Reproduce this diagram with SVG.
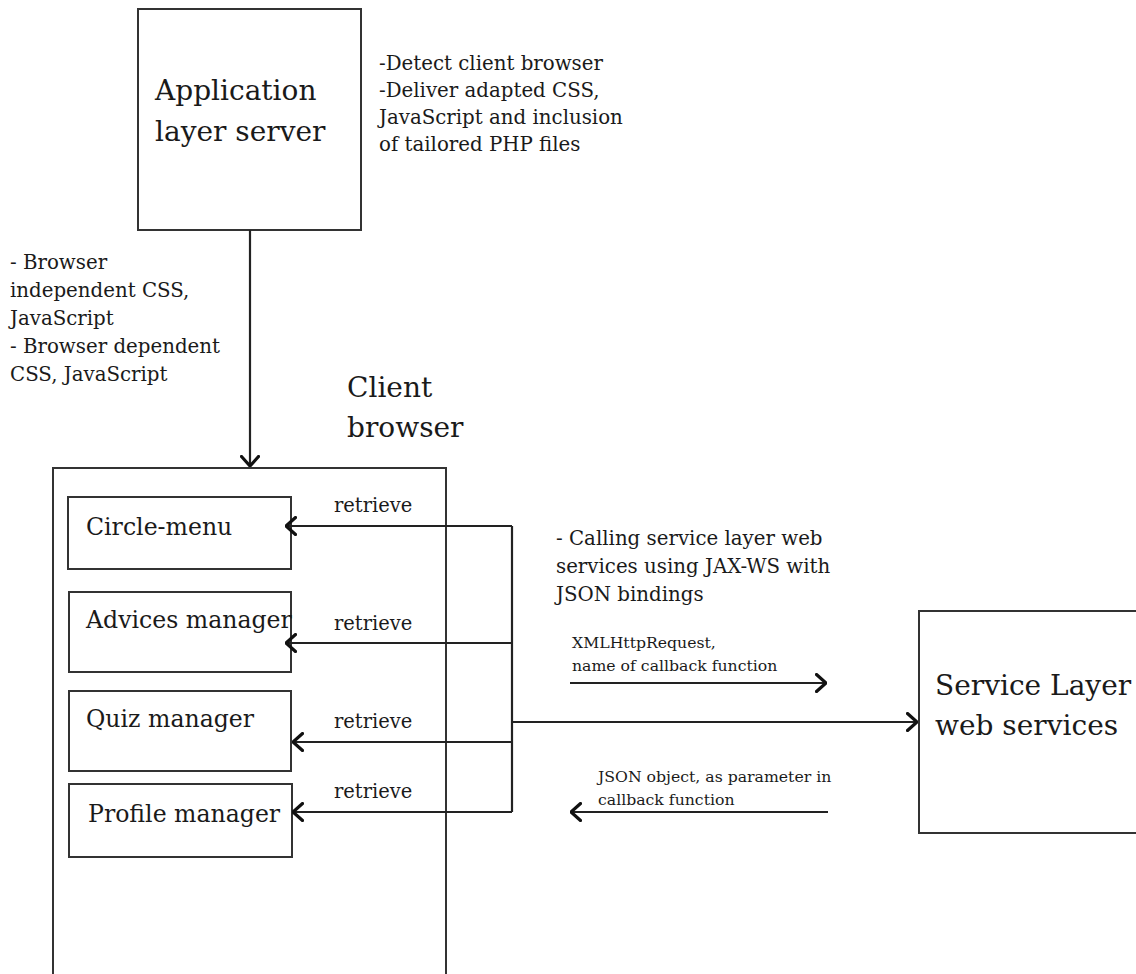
<svg xmlns="http://www.w3.org/2000/svg" width="1136" height="974" viewBox="0 0 1136 974">
<style>
.box{fill:#fff;stroke:#333;stroke-width:2}
.ln{fill:none;stroke:#222;stroke-width:2.2}
text{font-family:"DejaVu Serif","Liberation Serif",serif;fill:#1a1a1a}
.big{font-size:28px}
.mid{font-size:19.8px}
.lbl{font-size:23.6px}
.ret{font-size:19.5px}
.sm{font-size:15.7px}
</style>
<defs>
<marker id="ah" viewBox="0 0 12 20" refX="11" refY="10" markerWidth="12" markerHeight="20" markerUnits="userSpaceOnUse" orient="auto">
<path d="M1.5,1.5 L11,10 L1.5,18.5" fill="none" stroke="#111" stroke-width="3.2" stroke-linecap="round" stroke-linejoin="round"/>
</marker>
</defs>
<rect width="1136" height="974" fill="#fff"/>

<g id="app-server">
<rect class="box" x="138" y="9" width="223" height="221"/>
<text class="big" x="155" y="100">Application</text>
<text class="big" x="155" y="141">layer server</text>
</g>
<g id="app-notes">
<text class="mid" x="379" y="70">-Detect client browser</text>
<text class="mid" x="379" y="97">-Deliver adapted CSS,</text>
<text class="mid" x="379" y="124">JavaScript and inclusion</text>
<text class="mid" x="379" y="151">of tailored PHP files</text>
</g>
<g id="delivery-notes">
<text class="mid" x="10" y="269">- Browser</text>
<text class="mid" x="10" y="297">independent CSS,</text>
<text class="mid" x="10" y="325">JavaScript</text>
<text class="mid" x="10" y="353">- Browser dependent</text>
<text class="mid" x="10" y="381">CSS, JavaScript</text>
</g>

<g id="client-browser">
<path class="box" d="M53,980 V468 H446 V980"/>
<text class="big" x="347" y="397">Client</text>
<text class="big" x="347" y="437">browser</text>
</g>
<g id="circle-menu">
<rect class="box" x="68" y="497" width="223" height="72"/>
<text class="lbl" x="86" y="535">Circle-menu</text>
</g>
<g id="advices-manager">
<rect class="box" x="69" y="592" width="222" height="80"/>
<text class="lbl" x="86" y="628">Advices manager</text>
</g>
<g id="quiz-manager">
<rect class="box" x="69" y="691" width="222" height="80"/>
<text class="lbl" x="86" y="727">Quiz manager</text>
</g>
<g id="profile-manager">
<rect class="box" x="69" y="784" width="223" height="73"/>
<text class="lbl" x="88" y="822">Profile manager</text>
</g>

<g id="service-layer">
<rect class="box" x="919" y="611" width="230" height="222"/>
<text class="big" x="935" y="695">Service Layer</text>
<text class="big" x="935" y="735">web services</text>
</g>
<g id="service-notes">
<text class="mid" x="556" y="545">- Calling service layer web</text>
<text class="mid" x="556" y="573">services using JAX-WS with</text>
<text class="mid" x="556" y="601">JSON bindings</text>
</g>

<g id="connectors">
<line class="ln" x1="250" y1="230" x2="250" y2="466" marker-end="url(#ah)"/>
<path class="ln" d="M512,526 V812"/>
<line class="ln" x1="512" y1="526" x2="286" y2="526" marker-end="url(#ah)"/>
<line class="ln" x1="512" y1="643" x2="286" y2="643" marker-end="url(#ah)"/>
<line class="ln" x1="512" y1="742" x2="293" y2="742" marker-end="url(#ah)"/>
<line class="ln" x1="512" y1="812" x2="293" y2="812" marker-end="url(#ah)"/>
<line class="ln" x1="512" y1="722" x2="917" y2="722" marker-end="url(#ah)"/>
<line class="ln" x1="570" y1="683" x2="826" y2="683" marker-end="url(#ah)"/>
<line class="ln" x1="828" y1="812" x2="571" y2="812" marker-end="url(#ah)"/>
<text class="ret" x="334" y="512">retrieve</text>
<text class="ret" x="334" y="630">retrieve</text>
<text class="ret" x="334" y="728">retrieve</text>
<text class="ret" x="334" y="798">retrieve</text>
<text class="sm" x="572" y="648">XMLHttpRequest,</text>
<text class="sm" x="572" y="671">name of callback function</text>
<text class="sm" x="598" y="782">JSON object, as parameter in</text>
<text class="sm" x="598" y="805">callback function</text>
</g>
</svg>
